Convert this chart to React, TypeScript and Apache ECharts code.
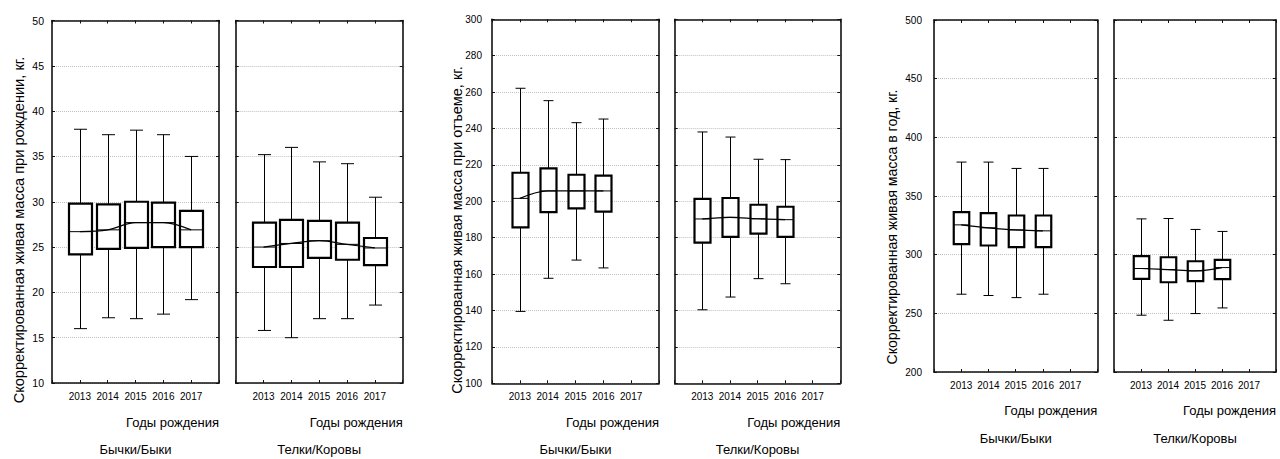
import React, { useEffect, useRef } from 'react';
import * as echarts from 'echarts';

const years = ['2013', '2014', '2015', '2016', '2017'];
const xCats = ['', '2013', '2014', '2015', '2016', '2017', ''];

// rows: [min, q1, median, q3, max]
const birthBulls = [
  [16.0, 24.2, 26.7, 29.8, 38.0],
  [17.2, 24.8, 26.9, 29.7, 37.4],
  [17.1, 24.9, 27.7, 30.0, 37.9],
  [17.6, 25.0, 27.7, 29.9, 37.4],
  [19.2, 25.0, 26.9, 29.0, 35.0],
];
const birthCows = [
  [15.8, 22.8, 25.0, 27.7, 35.2],
  [15.0, 22.8, 25.4, 28.0, 36.0],
  [17.1, 23.8, 25.7, 27.9, 34.4],
  [17.1, 23.6, 25.3, 27.7, 34.2],
  [18.6, 23.0, 24.9, 26.0, 30.5],
];
const weanBulls = [
  [139.5, 185.7, 201.6, 215.7, 262.1],
  [157.7, 194.1, 205.7, 218.1, 255.3],
  [167.7, 196.1, 205.7, 214.6, 243.2],
  [163.4, 194.3, 205.7, 214.1, 245.2],
];
const weanCows = [
  [140.4, 177.3, 190.3, 201.3, 238.1],
  [147.4, 180.4, 191.2, 201.8, 235.3],
  [157.5, 182.2, 190.4, 198.1, 223.1],
  [154.7, 180.4, 189.9, 197.0, 222.9],
];
const yearBulls = [
  [266.3, 308.9, 325.4, 336.2, 378.9],
  [265.2, 307.8, 322.9, 335.4, 378.9],
  [263.4, 306.4, 321.1, 333.4, 373.5],
  [266.3, 306.4, 320.3, 333.4, 373.5],
];
const yearCows = [
  [248.4, 279.3, 288.2, 298.7, 330.5],
  [244.1, 276.5, 287.3, 297.8, 330.8],
  [249.8, 277.4, 286.2, 294.4, 321.5],
  [254.6, 279.1, 289.0, 295.6, 319.8],
];

const yNames = [
  'Скорректированная живая масса при рождении, кг.',
  'Скорректированная живая масса при отъеме, кг.',
  'Скорректированная живая масса в год, кг.',
];
const xName = 'Годы рождения';
const groupNames = ['Бычки/Быки', 'Телки/Коровы'];

const FONT = '"Liberation Sans", Arial, sans-serif';
const NARROW = '"Liberation Sans Narrow", "Arial Narrow", "Liberation Sans", sans-serif';

const charts = [
  { min: 10, max: 50, interval: 5, nameX: 19, nameY: 230, nameFont: 14.6, labMargin: 8, yFont: 10.5, yFam: FONT, xNameY: 422, groupY: 449 },
  { min: 100, max: 300, interval: 20, nameX: 457, nameY: 230, nameFont: 14.5, labMargin: 10, yFont: 10, yFam: NARROW, xNameY: 422, groupY: 449 },
  { min: 200, max: 500, interval: 50, nameX: 892, nameY: 227, nameFont: 14.1, labMargin: 12, yFont: 10, yFam: NARROW, xNameY: 410, groupY: 438 },
];

const panels = [
  { chart: 0, left: 52, top: 20.5, width: 167, height: 362.5, data: birthBulls, boxW: 23, capW: 13, group: 0 },
  { chart: 0, left: 235.7, top: 20.5, width: 167, height: 362.5, data: birthCows, boxW: 23, capW: 13, group: 1 },
  { chart: 1, left: 492, top: 19.3, width: 167, height: 364, data: weanBulls, boxW: 16, capW: 10, group: 0 },
  { chart: 1, left: 674.7, top: 19.3, width: 165.6, height: 364, data: weanCows, boxW: 16, capW: 10, group: 1 },
  { chart: 2, left: 934, top: 20, width: 163.3, height: 352, data: yearBulls, boxW: 15.5, capW: 10, group: 0 },
  { chart: 2, left: 1114, top: 20, width: 162, height: 352, data: yearCows, boxW: 15.5, capW: 10, group: 1 },
];

export default function App() {
  const ref = useRef<HTMLDivElement>(null);
  useEffect(() => {
    if (!ref.current) return;
    const chart = echarts.init(ref.current, null, { renderer: 'svg' });
    const grid: any[] = [];
    const xAxis: any[] = [];
    const yAxis: any[] = [];
    const series: any[] = [];
    const graphic: any[] = [];

    panels.forEach((p, i) => {
      const c = charts[p.chart];
      const first = p.group === 0;
      grid.push({ left: p.left, top: p.top, width: p.width, height: p.height, containLabel: false });
      const axLine = { show: true, onZero: false, lineStyle: { color: '#111', width: 1.6 } };
      const tick = { show: true, inside: true, length: 3, lineStyle: { color: '#111', width: 1 } };
      xAxis.push({
        gridIndex: i, type: 'category', data: xCats, boundaryGap: false, position: 'bottom',
        axisLine: axLine, axisTick: { ...tick, interval: 0 },
        axisLabel: { interval: 0, fontSize: 10, color: '#000', margin: 8, fontFamily: NARROW },
        splitLine: { show: false },
      });
      xAxis.push({
        gridIndex: i, type: 'category', data: xCats, boundaryGap: false, position: 'top',
        axisLine: axLine, axisTick: { ...tick, interval: 0 },
        axisLabel: { show: false }, splitLine: { show: false },
      });
      yAxis.push({
        gridIndex: i, type: 'value', min: c.min, max: c.max, interval: c.interval, position: 'left',
        axisLine: axLine, axisTick: tick,
        axisLabel: { show: first, fontSize: c.yFont, color: '#000', margin: c.labMargin, fontFamily: c.yFam },
        splitLine: { show: true, lineStyle: { color: '#c0c0c0', type: 'dotted', width: 1 } },
      });
      yAxis.push({
        gridIndex: i, type: 'value', min: c.min, max: c.max, interval: c.interval, position: 'right',
        axisLine: axLine, axisTick: tick, axisLabel: { show: false }, splitLine: { show: false },
      });

      const boxData = p.data.map((row, k) => [years[k], ...row]);
      const boxW = p.boxW;
      const capW = p.capW;
      series.push({
        type: 'custom', xAxisIndex: 2 * i, yAxisIndex: 2 * i, z: 2,
        encode: { x: 0, y: [1, 2, 3, 4, 5] },
        data: boxData,
        renderItem: (params: any, api: any) => {
          const xv = api.value(0);
          const lo = api.coord([xv, api.value(1)]);
          const q1 = api.coord([xv, api.value(2)]);
          const md = api.coord([xv, api.value(3)]);
          const q3 = api.coord([xv, api.value(4)]);
          const hi = api.coord([xv, api.value(5)]);
          const cx = Math.round(lo[0]) + 0.5;
          const thin = { stroke: '#000', lineWidth: 1 };
          return {
            type: 'group',
            children: [
              { type: 'line', shape: { x1: cx, y1: hi[1], x2: cx, y2: q3[1] }, style: thin },
              { type: 'line', shape: { x1: cx, y1: q1[1], x2: cx, y2: lo[1] }, style: thin },
              { type: 'line', shape: { x1: cx - capW / 2, y1: hi[1], x2: cx + capW / 2, y2: hi[1] }, style: thin },
              { type: 'line', shape: { x1: cx - capW / 2, y1: lo[1], x2: cx + capW / 2, y2: lo[1] }, style: thin },
              {
                type: 'rect',
                shape: { x: cx - boxW / 2, y: q3[1], width: boxW, height: q1[1] - q3[1] },
                style: { fill: '#fff', stroke: '#000', lineWidth: 2.2 },
              },
              { type: 'line', shape: { x1: cx - boxW / 2, y1: md[1], x2: cx + boxW / 2, y2: md[1] }, style: thin },
            ],
          };
        },
      });
      const med: (number | null)[] = [null];
      years.forEach((_, k) => med.push(p.data[k] ? p.data[k][2] : null));
      med.push(null);
      series.push({
        type: 'line', xAxisIndex: 2 * i, yAxisIndex: 2 * i, z: 3,
        data: med, smooth: 0.35, symbol: 'none', connectNulls: false,
        lineStyle: { color: '#000', width: 1.2 },
      });

      graphic.push({
        type: 'text', x: p.left + p.width, y: c.xNameY,
        style: { text: xName, font: `13px ${FONT}`, fill: '#000', textAlign: 'right', textVerticalAlign: 'middle' },
      });
      graphic.push({
        type: 'text', x: p.left + p.width / 2, y: c.groupY,
        style: { text: groupNames[p.group], font: `13px ${FONT}`, fill: '#000', textAlign: 'center', textVerticalAlign: 'middle' },
      });
    });

    charts.forEach((c, k) => {
      graphic.push({
        type: 'text', x: c.nameX, y: c.nameY, rotation: Math.PI / 2,
        style: { text: yNames[k], font: `${c.nameFont}px ${FONT}`, fill: '#000', textAlign: 'center', textVerticalAlign: 'middle' },
      });
    });

    chart.setOption({
      animation: false,
      backgroundColor: '#fff',
      grid, xAxis, yAxis, series, graphic,
    });
    return () => chart.dispose();
  }, []);
  return (
    <div
      ref={ref}
      style={{ position: 'fixed', left: 0, top: 0, width: 1280, height: 459, background: '#fff' }}
    />
  );
}
